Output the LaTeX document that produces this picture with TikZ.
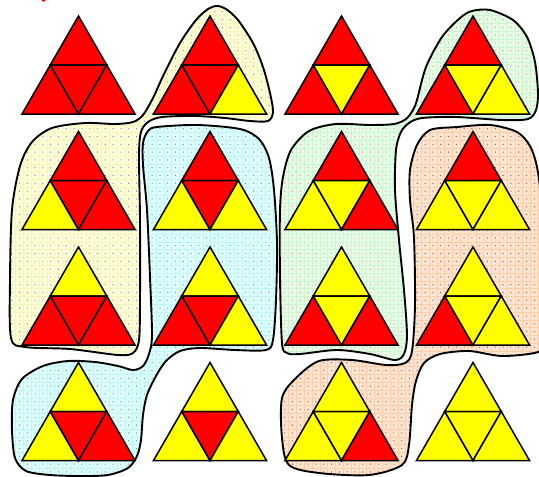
\documentclass[tikz,border=0pt]{standalone}
\definecolor{cred}{HTML}{FF0000}
\definecolor{cyel}{HTML}{FFFF00}
\definecolor{fA}{HTML}{FFFFD4}
\definecolor{gA}{HTML}{F6F2C4}
\definecolor{dA}{HTML}{7A7AF2}
\definecolor{fB}{HTML}{DEFFFF}
\definecolor{gB}{HTML}{C2F4F4}
\definecolor{dB}{HTML}{5AA85A}
\definecolor{fC}{HTML}{E4FCE6}
\definecolor{gC}{HTML}{CDF3D0}
\definecolor{dC}{HTML}{EC9274}
\definecolor{fD}{HTML}{FFE4D0}
\definecolor{gD}{HTML}{FDCDAA}
\definecolor{dD}{HTML}{A85050}
\tikzset{
  tri/.style={draw=black, line width=1.5pt, line join=miter},
  blobline/.style={draw=black, line width=1.9pt},
  blobA/.style={insert path={plot[smooth cycle] coordinates {
    (217,6) (226,9) (238,20) (253,43) (263,67) (270,93) (273,112) (268,121)
    (250,121) (225,118) (195,116) (162,117) (148,122) (141,132) (139,155)
    (140,220) (140,300) (139,340) (133,353) (118,355) (70,349) (25,347)
    (11,338) (10,280) (12,210) (20,166) (32,142) (52,128) (85,123) (115,124)
    (133,122) (143,115) (153,98) (164,74) (180,43) (196,20) (208,9)}}},
  blobB/.style={insert path={plot[smooth cycle] coordinates {
    (157,127) (197,125) (240,129) (259,139) (269,158) (274,190) (277,243)
    (276,300) (273,340) (266,350) (235,350) (200,348) (180,351) (166,361)
    (156,376) (147,395) (143,415) (141,440) (137,456) (128,468) (108,475)
    (80,476) (50,475) (26,471) (15,458) (12,430) (13,400) (22,379) (43,366)
    (68,361) (95,362) (118,366) (133,370) (143,366) (149,354) (152,335)
    (150,277) (147,210) (143,165) (143,143) (148,131)}}},
  blobC/.style={insert path={plot[smooth cycle] coordinates {
    (472,11) (490,10) (513,20) (527,37) (535,62) (538,93) (536,110) (528,119)
    (502,120) (456,117) (422,118) (409,123) (401,132) (396,150) (395,190)
    (399,240) (404,290) (407,335) (404,354) (395,360) (370,354) (337,350)
    (300,354) (287,353) (282,343) (280,277) (280,210) (283,177) (291,150)
    (309,131) (336,124) (370,125) (394,124) (406,119) (413,110) (417,100)
    (426,67) (442,37) (460,18)}}},
  blobD/.style={insert path={plot[smooth cycle] coordinates {
    (430,130) (457,127) (490,125) (517,132) (530,146) (537,167) (541,200)
    (543,270) (543,340) (538,352) (502,356) (469,351) (440,354) (424,363)
    (416,381) (412,405) (409,445) (402,465) (369,475) (319,473) (289,465)
    (282,438) (282,398) (296,378) (319,361) (352,360) (386,365) (405,363)
    (412,351) (415,305) (414,238) (410,200) (410,170) (417,145)}}}
}
% #1 blob style, #2 fill, #3 grid colour, #4 dot colour, #5-#8 dot index ranges
\newcommand\patblob[8]{%
  \fill[fill=#2,#1];
  \begin{scope}
    \clip[#1];
    \draw[draw=#3, line width=0.3pt, step=7.8pt] (0,480) grid (546,0);
    \foreach \i in {#5,...,#6}{\foreach \j in {#7,...,#8}{%
      \fill[#4] ({3.9+7.8*\i},{3.9+7.8*\j}) circle (0.65pt);}}
  \end{scope}
  \draw[blobline,#1];}
% #1 cx, #2 apex y, #3 top, #4 left, #5 middle, #6 right
\newcommand\sierptri[6]{%
  \begin{scope}[shift={(#1,#2)}]
    \filldraw[tri, fill=#3] (0,0) -- (-28.25,49) -- (28.25,49) -- cycle;
    \filldraw[tri, fill=#4] (-28.25,49) -- (-56.5,98) -- (0,98) -- cycle;
    \filldraw[tri, fill=#5] (-28.25,49) -- (28.25,49) -- (0,98) -- cycle;
    \filldraw[tri, fill=#6] (28.25,49) -- (0,98) -- (56.5,98) -- cycle;
  \end{scope}}
\begin{document}
\begin{tikzpicture}[x=1pt, y=-1pt]
  \useasboundingbox (0,0) rectangle (539,477);
  \clip (0,0) rectangle (539,477);
  \fill[white] (0,0) rectangle (539,477);
  \fill[cred] (43.5,0) ellipse (2pt and 1.6pt);
  % grouping blobs
  \patblob{blobA}{fA}{gA}{dA}{1}{35}{0}{45}
  \patblob{blobB}{fB}{gB}{dB}{1}{35}{15}{61}
  \patblob{blobC}{fC}{gC}{dC}{35}{69}{1}{46}
  \patblob{blobD}{fD}{gD}{dD}{35}{69}{15}{61}
  % triangles: top, left, middle, right
  \sierptri{78.5}{16}{cred}{cred}{cred}{cred}
  \sierptri{210}{16}{cred}{cred}{cred}{cyel}
  \sierptri{341.5}{16}{cred}{cred}{cyel}{cred}
  \sierptri{473}{16}{cred}{cred}{cyel}{cyel}
  \sierptri{78.5}{131.5}{cred}{cyel}{cred}{cred}
  \sierptri{210}{131.5}{cred}{cyel}{cred}{cyel}
  \sierptri{341.5}{131.5}{cred}{cyel}{cyel}{cred}
  \sierptri{473}{131.5}{cred}{cyel}{cyel}{cyel}
  \sierptri{78.5}{247}{cyel}{cred}{cred}{cred}
  \sierptri{210}{247}{cyel}{cred}{cred}{cyel}
  \sierptri{341.5}{247}{cyel}{cred}{cyel}{cred}
  \sierptri{473}{247}{cyel}{cred}{cyel}{cyel}
  \sierptri{78.5}{362.5}{cyel}{cyel}{cred}{cred}
  \sierptri{210}{362.5}{cyel}{cyel}{cred}{cyel}
  \sierptri{341.5}{362.5}{cyel}{cyel}{cyel}{cred}
  \sierptri{473}{362.5}{cyel}{cyel}{cyel}{cyel}
\end{tikzpicture}
\end{document}
